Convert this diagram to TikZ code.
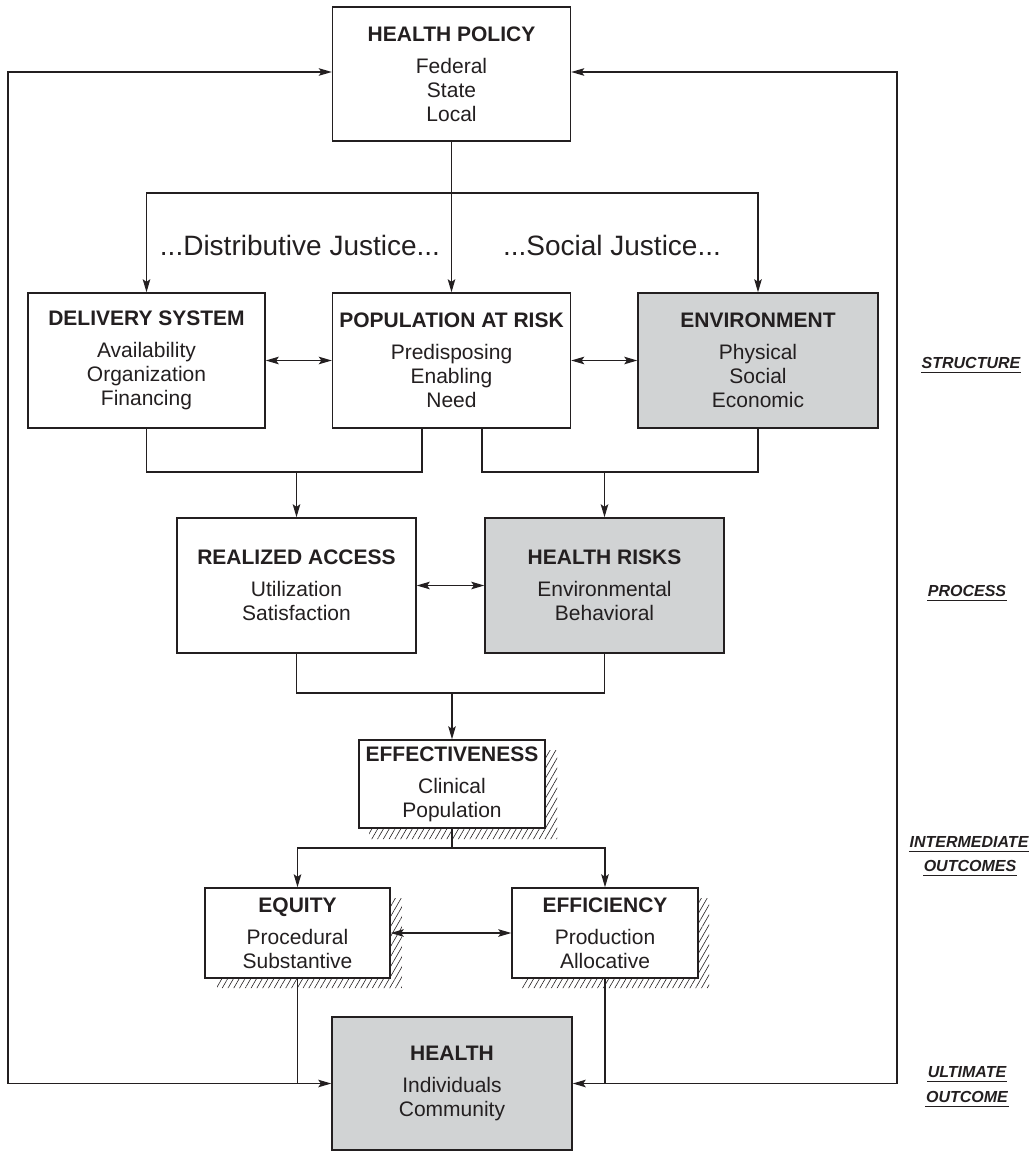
\documentclass[tikz,border=0pt]{standalone}
\usepackage{fontspec}
\setmainfont{Liberation Sans}
\usetikzlibrary{arrows.meta,patterns.meta}
\definecolor{ink}{HTML}{231F20}
\definecolor{shade}{HTML}{D1D3D4}
\begin{document}
\begin{tikzpicture}[x=1pt,y=-1pt,
  line width=1.3pt, draw=ink,
  box/.style={draw=ink, line width=1.4pt, fill=white, inner sep=0pt, align=center,
    text=ink, font=\fontsize{21}{24}\selectfont},
  grey/.style={box, fill=shade},
  tip/.style={Stealth[length=13pt,width=7.5pt,inset=2.5pt]},
  arr/.style={-{Stealth[length=13pt,width=7.5pt,inset=2.5pt]}},
  arrs/.style={{Stealth[length=13pt,width=7.5pt,inset=2.5pt]}-{Stealth[length=13pt,width=7.5pt,inset=2.5pt]}},
  hatch/.style={pattern={Lines[angle=60,distance=5pt,line width=0.6pt]}, pattern color=ink},
  justice/.style={text=ink, font=\fontsize{28}{32}\selectfont, inner sep=0pt},
  stage/.style={text=ink, font=\fontsize{16}{19}\selectfont\bfseries\itshape, inner xsep=0pt, inner ysep=3.5pt}
]
\useasboundingbox (0,0) rectangle (1035,1153);

% shadow hatching behind the outcome boxes
\fill[hatch] (545,750) -- (557,750) -- (557,839) -- (369,839) -- (369,828) -- (545,828) -- cycle;
\fill[hatch] (391,898) -- (402,898) -- (402,988) -- (217,988) -- (217,978) -- (391,978) -- cycle;
\fill[hatch] (698,898) -- (709,898) -- (709,988) -- (522,988) -- (522,978) -- (698,978) -- cycle;

% boxes
\node[box, minimum width=238pt, minimum height=134pt] (policy) at (451.5,74)
  {\textbf{HEALTH POLICY}\\[8pt] Federal\\ State\\ Local};
\node[box, minimum width=237pt, minimum height=135pt] (deliv) at (146.5,360.5)
  {\textbf{DELIVERY SYSTEM}\\[8pt] Availability\\ Organization\\ Financing};
\node[box, minimum width=238pt, minimum height=135pt] (pop) at (451.5,360.5)
  {\textbf{POPULATION AT RISK}\\[8pt] Predisposing\\ Enabling\\ Need};
\node[grey, minimum width=240pt, minimum height=135pt] (env) at (758,360.5)
  {\textbf{ENVIRONMENT}\\[8pt] Physical\\ Social\\ Economic};
\node[box, minimum width=239pt, minimum height=135pt] (realized) at (296.5,585.5)
  {\textbf{REALIZED ACCESS}\\[8pt] Utilization\\ Satisfaction};
\node[grey, minimum width=239pt, minimum height=135pt] (risks) at (604.5,585.5)
  {\textbf{HEALTH RISKS}\\[8pt] Environmental\\ Behavioral};
\node[box, minimum width=186pt, minimum height=88pt] (effect) at (452,784)
  {\textbf{EFFECTIVENESS}\\[8pt] Clinical\\ Population};
\node[box, minimum width=185pt, minimum height=90pt] (equity) at (297.5,933)
  {\textbf{EQUITY}\\[8pt] Procedural\\ Substantive};
\node[box, minimum width=186pt, minimum height=90pt] (effic) at (605,933)
  {\textbf{EFFICIENCY}\\[8pt] Production\\ Allocative};
\node[grey, minimum width=240pt, minimum height=133pt] (health) at (452,1083.5)
  {\textbf{HEALTH}\\[8pt] Individuals\\ Community};

% justice labels
\node[justice] (dj) at (300,245) {...Distributive Justice...};
\node[justice] (sj) at (612,245) {...Social Justice...};

% junction points
\coordinate (pj) at (451.5,193);
\coordinate (j1) at (296.5,472);
\coordinate (j2) at (604.5,472);
\coordinate (j3) at (452,693);
\coordinate (j4) at (452,848);
\coordinate (lc) at (8,1083.5);
\coordinate (rc) at (897,1083.5);

% policy to structure
\draw (policy.south) -- (pj);
\draw[arr] (pj) -- (pop.north);
\draw[arr] (pj) -| (deliv.north);
\draw[arr] (pj) -| (env.north);

% structure interactions
\draw[arrs] (deliv.east) -- (pop.west);
\draw[arrs] (pop.east) -- (env.west);

% structure to process
\draw (deliv.south) |- (j1) -| ([xshift=-29.5pt]pop.south);
\draw[arr] (j1) -- (realized.north);
\draw ([xshift=30.5pt]pop.south) |- (j2) -| (env.south);
\draw[arr] (j2) -- (risks.north);
\draw[arrs] (realized.east) -- (risks.west);

% process to intermediate outcomes
\draw (realized.south) |- (j3) -| (risks.south);
\draw[arr] (j3) -- (effect.north);
\draw (effect.south) -- (j4);
\draw[arr] (j4) -| (equity.north);
\draw[arr] (j4) -| (effic.north);
\draw[arrs] (equity.east) -- (effic.west);

% intermediate to ultimate outcome
\draw (equity.south) -- (equity.south |- health.west);
\draw (effic.south) -- (effic.south |- health.east);
\draw[arr] (lc) -- (health.west);
\draw[arr] (rc) -- (health.east);

% feedback loops
\draw[arr] (lc) |- ([yshift=2pt]policy.west);
\draw[arr] (rc) |- ([yshift=2pt]policy.east);

% stage labels
\foreach \n/\x/\y/\t in {s1/971/363/STRUCTURE, s2/967/591/PROCESS,
    s3/969/842/INTERMEDIATE, s4/970/866/OUTCOMES, s5/967/1072/ULTIMATE, s6/967/1097/OUTCOME} {
  \node[stage] (\n) at (\x,\y) {\t};
  \draw[line width=0.9pt] (\n.south west) -- (\n.south east);
}
\end{tikzpicture}
\end{document}
